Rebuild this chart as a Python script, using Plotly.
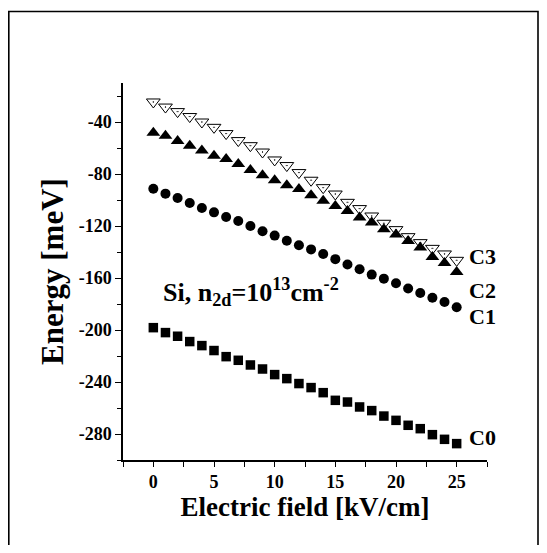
import plotly.graph_objects as go

field = list(range(26))
c3 = [-24.6, -28.5, -32, -35.8, -40, -44.1, -48.9, -54.3, -58.2, -63.1, -69.2, -73.5, -78.9,
      -84.8, -90.5, -95.4, -101.8, -106.6, -112.3, -117.9, -122.8, -128.2, -132.8, -137.2, -141.5, -146.4]
c2 = [-48.2, -50.5, -54.6, -58.2, -62, -65.9, -68.5, -72.3, -76.9, -81, -84.8, -88.7, -91.5,
      -96.4, -100.5, -104.6, -108.4, -113.5, -117.4, -122.5, -126.6, -131.5, -136.6, -143.8, -148.5, -155.4]
c1 = [-91.3, -95.1, -98.5, -102.3, -106.2, -109.5, -113.1, -116.2, -120, -124.1, -127.4, -131.3, -134.8,
      -138, -141.5, -145.5, -149.6, -153.3, -157.4, -160.5, -164, -168.1, -171.6, -175.2, -178.4, -182.5]
c0 = [-198.2, -202, -204.8, -208.9, -212, -215.8, -220.5, -223.3, -226.9, -230, -234.3, -237.4, -241.2,
      -244.3, -248.2, -254.1, -255.4, -259.2, -262, -266.2, -269.5, -273.3, -275.9, -280.5, -284.1, -287.4]

labels = ["C3", "C2", "C1", "C0"]
label_y = [-143.3, -169.5, -189.8, -283]

x_ticks = [0, 5, 10, 15, 20, 25]
x_ticktext = ["0", "5", "10", "15", "20", "25"]
y_ticks = [-40, -80, -120, -160, -200, -240, -280]
y_ticktext = ["-40", "-80", "-120", "-160", "-200", "-240", "-280"]

FONT = "'Liberation Serif', 'Times New Roman', Times, serif"

W, H = 531, 537
ML, MR, MT, MB = 115, 52, 75, 85
PW, PH = W - ML - MR, H - MT - MB

fig = go.Figure()
fig.add_trace(go.Scatter(x=field, y=c3, mode="markers", name="C3",
                         marker=dict(symbol="triangle-down-open-dot", size=12, color="black",
                                     line=dict(width=1, color="black"))))
fig.add_trace(go.Scatter(x=field, y=c2, mode="markers", name="C2",
                         marker=dict(symbol="triangle-up", size=12, color="black")))
fig.add_trace(go.Scatter(x=field, y=c1, mode="markers", name="C1",
                         marker=dict(symbol="circle", size=10, color="black")))
fig.add_trace(go.Scatter(x=field, y=c0, mode="markers", name="C0",
                         marker=dict(symbol="square", size=9.5, color="black")))

for lab, ly in zip(labels, label_y):
    fig.add_annotation(x=25.9, y=ly, text="<b>" + lab + "</b>", showarrow=False,
                       xanchor="left", yanchor="middle", borderpad=0,
                       font=dict(family=FONT, size=22, color="black"))

fig.add_annotation(x=0.6, y=-171,
                   text="<b>Si, n<sub>2d</sub>=10<sup>13</sup>cm<sup>-2</sup></b>",
                   showarrow=False, xanchor="left", yanchor="middle",
                   font=dict(family=FONT, size=26, color="black"))

# outer frame
fig.add_shape(type="rect", xref="paper", yref="paper",
              x0=(0.8 - ML) / PW, x1=(530 - ML) / PW,
              y0=(PH + MT - 570) / PH, y1=(PH + MT - 3.5) / PH,
              line=dict(color="black", width=1.6), fillcolor="rgba(0,0,0,0)", layer="above")

fig.update_layout(
    width=W, height=H,
    margin=dict(l=ML, r=MR, t=MT, b=MB),
    paper_bgcolor="white", plot_bgcolor="white",
    showlegend=False,
    font=dict(family=FONT, color="black"),
    xaxis=dict(range=[-2.5, 27.5], tickvals=x_ticks, ticktext=["<b>" + t + "</b>" for t in x_ticktext],
               ticks="outside", ticklen=5, tickwidth=1.2, tickcolor="black",
               showline=True, linecolor="black", linewidth=1.5, showgrid=False, zeroline=False,
               minor=dict(tickvals=[-2.5, 2.5, 7.5, 12.5, 17.5, 22.5, 27.5], ticks="outside",
                          ticklen=5, tickwidth=1.2, tickcolor="black", showgrid=False),
               tickfont=dict(family=FONT, size=18, color="black"),
               title=dict(text="<b>Electric field [kV/cm]</b>", standoff=6,
                          font=dict(family=FONT, size=27, color="black"))),
    yaxis=dict(range=[-300, -10], tickvals=y_ticks, ticktext=["<b>" + t + "</b>" for t in y_ticktext],
               ticks="outside", ticklen=6, tickwidth=1.2, tickcolor="black",
               showline=True, linecolor="black", linewidth=1.5, showgrid=False, zeroline=False,
               minor=dict(tickvals=[-20, -60, -100, -140, -180, -220, -260, -300], ticks="outside",
                          ticklen=4, tickwidth=1.2, tickcolor="black", showgrid=False),
               tickfont=dict(family=FONT, size=18, color="black"),
               title=dict(text="<b>Energy [meV]</b>", standoff=6,
                          font=dict(family=FONT, size=31, color="black"))),
)

fig.write_html("out.html")
